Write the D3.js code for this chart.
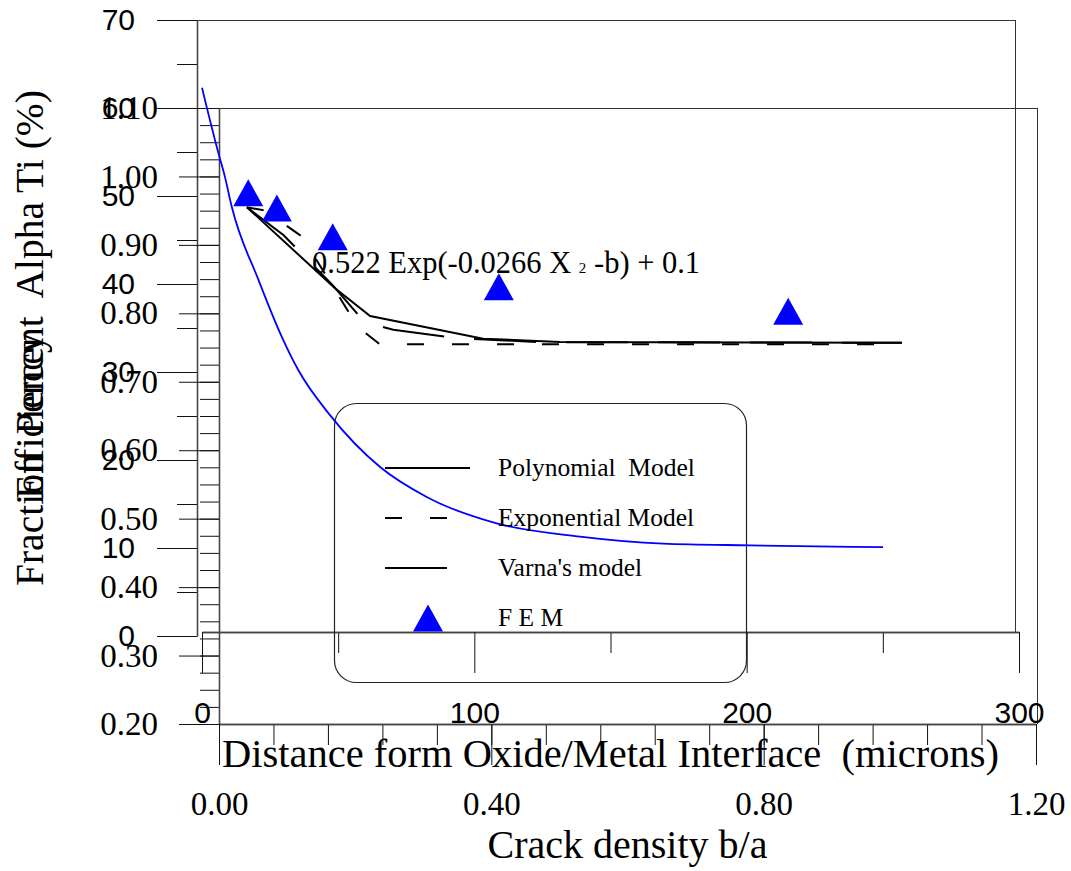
<!DOCTYPE html>
<html>
<head>
<meta charset="utf-8">
<script src="https://cdn.jsdelivr.net/npm/d3@7"></script>
<style>
  html, body { margin: 0; padding: 0; background: #fff; }
  svg { display: block; }
  text { white-space: pre; }
  .serif { font-family: "Liberation Serif", "Times New Roman", serif; }
  .sans { font-family: "Liberation Sans", Arial, sans-serif; }
</style>
</head>
<body>
<svg id="chart" width="1071" height="871"></svg>
<script>
// ---- Alpha Ti fraction vs. distance (blue curve, sans-serif axes) ----
const alphaDistance = [0, 6, 8.4, 10.9, 20.7, 29.3, 35.4, 47, 65.4, 82.5, 108.2, 138.8, 169.3, 201.2, 250.1];
const alphaFraction = [62.3, 54.9, 52.2, 48.8, 40.5, 34.0, 30.2, 25.1, 19.2, 15.8, 12.8, 11.3, 10.5, 10.3, 10.1];
const alphaYTicks = [0, 10, 20, 30, 40, 50, 60, 70];
const alphaXTicks = [0, 100, 200, 300];

// ---- Stiffness vs. crack density (black models + FEM points, serif axes) ----
const polyDensity = [0.041, 0.170, 0.222, 0.388, 0.501, 1.003];
const polyValue   = [0.955, 0.837, 0.796, 0.763, 0.758, 0.757];
const expDensity  = [0.041, 0.068, 0.122, 0.204, 0.236, 1.003];
const expValue    = [0.955, 0.950, 0.912, 0.780, 0.755, 0.755];
const varnaDensity = [0.041, 0.095, 0.167, 0.214, 0.256, 0.347, 0.471, 1.003];
const varnaValue   = [0.955, 0.914, 0.841, 0.787, 0.776, 0.764, 0.758, 0.757];
const femDensity = [0.043, 0.085, 0.167, 0.411, 0.836];
const femValue   = [0.976, 0.954, 0.912, 0.839, 0.803];
const stiffYTicks = [0.20, 0.30, 0.40, 0.50, 0.60, 0.70, 0.80, 0.90, 1.00, 1.10];
const stiffXTicks = [0.00, 0.40, 0.80, 1.20];

const legendLabels = ["Polynomial  Model", "Exponential Model", "Varna's model", "F E M"];

const svg = d3.select("#chart");

// scales
const xA = d3.scaleLinear().domain([0, 300]).range([202, 1019]);
const yA = d3.scaleLinear().domain([0, 70]).range([636, 20]);
const xB = d3.scaleLinear().domain([0, 1.2]).range([219, 1036]);
const yB = d3.scaleLinear().domain([0.2, 1.1]).range([724, 108]);

function styleAxis(g, fontClass, size) {
  g.selectAll("path.domain").attr("stroke", "#444").attr("stroke-width", 1.3);
  g.selectAll(".tick line").attr("stroke", "#111");
  g.selectAll(".tick text").attr("class", fontClass).attr("font-size", size).attr("fill", "#000");
}

// ---------- frames ----------
const frames = svg.append("g").attr("stroke", "#333").attr("fill", "none").attr("stroke-width", 1);
frames.append("line").attr("x1", 197).attr("x2", 1015).attr("y1", yA(70) + 0.5).attr("y2", yA(70) + 0.5);
frames.append("line").attr("x1", 1015.5).attr("x2", 1015.5).attr("y1", yA(70)).attr("y2", 632);
frames.append("line").attr("x1", 197).attr("x2", 1037).attr("y1", yB(1.1) + 0.5).attr("y2", yB(1.1) + 0.5);
frames.append("line").attr("x1", 1037.5).attr("x2", 1037.5).attr("y1", yB(1.1)).attr("y2", yB(0.2));

// ---------- alpha chart axes ----------
const aLeftMinor = svg.append("g").attr("transform", "translate(197,0)")
  .call(d3.axisLeft(yA).tickValues(d3.range(5, 70, 10)).tickSize(20).tickSizeOuter(0).tickFormat(""));
styleAxis(aLeftMinor, "sans", 30);
const aLeft = svg.append("g").attr("transform", "translate(197,0)")
  .call(d3.axisLeft(yA).tickValues(alphaYTicks).tickSize(40).tickSizeOuter(0).tickPadding(22).tickFormat(d3.format("d")));
styleAxis(aLeft, "sans", 30);

const aBottomMinor = svg.append("g").attr("transform", "translate(0,632)")
  .call(d3.axisBottom(xA).tickValues([50, 150, 250]).tickSize(21).tickSizeOuter(0).tickFormat(""));
styleAxis(aBottomMinor, "sans", 30);
const aBottom = svg.append("g").attr("transform", "translate(0,632)")
  .call(d3.axisBottom(xA).tickValues(alphaXTicks).tickSize(41).tickSizeOuter(0).tickPadding(0).tickFormat(d3.format("d")));
styleAxis(aBottom, "sans", 30);
aBottom.selectAll(".tick text").attr("y", 0).attr("dy", 0).attr("transform", "translate(0,91)");

// ---------- stiffness chart axes ----------
const bLeftMinor = svg.append("g").attr("transform", "translate(219,0)")
  .call(d3.axisLeft(yB).tickValues(d3.range(0, 37).map(i => 0.2 + i * 0.025)).tickSize(19).tickSizeOuter(0).tickFormat(""));
styleAxis(bLeftMinor, "serif", 33);
const bLeft = svg.append("g").attr("transform", "translate(219,0)")
  .call(d3.axisLeft(yB).tickValues(stiffYTicks).tickSize(40).tickSizeOuter(0).tickPadding(21).tickFormat(d3.format(".2f")));
styleAxis(bLeft, "serif", 33);

const bBottomMinor = svg.append("g").attr("transform", "translate(0,724)")
  .call(d3.axisBottom(xB).tickValues(d3.range(0, 16).map(i => i * 0.08)).tickSize(21).tickSizeOuter(0).tickFormat(""));
styleAxis(bBottomMinor, "serif", 33);
const bBottom = svg.append("g").attr("transform", "translate(0,724)")
  .call(d3.axisBottom(xB).tickValues(stiffXTicks).tickSize(41).tickSizeOuter(0).tickFormat(d3.format(".2f")));
styleAxis(bBottom, "serif", 33);
bBottom.selectAll(".tick text").attr("y", 0).attr("dy", 0).attr("transform", "translate(0,91)");

// ---------- axis titles ----------
svg.append("text").attr("class", "serif").attr("font-size", 40.5)
  .attr("x", (xA.range()[0] + xA.range()[1]) / 2).attr("y", 767).attr("text-anchor", "middle")
  .text("Distance form Oxide/Metal Interface  (microns)");
svg.append("text").attr("class", "serif").attr("font-size", 40)
  .attr("x", (xB.range()[0] + xB.range()[1]) / 2).attr("y", 858).attr("text-anchor", "middle")
  .text("Crack density b/a");
svg.append("text").attr("class", "serif").attr("font-size", 39.5)
  .attr("transform", "translate(43,586) rotate(-90)")
  .attr("text-anchor", "start")
  .text("Fraction  Percent  Alpha Ti (%)");
svg.append("text").attr("class", "serif").attr("font-size", 40)
  .attr("transform", `translate(43,${(yB.range()[0] + yB.range()[1]) / 2}) rotate(-90)`)
  .attr("text-anchor", "middle")
  .text("Efficiency");

// ---------- legend box ----------
svg.append("rect").attr("x", 334.5).attr("y", 403.5).attr("width", 412).attr("height", 279)
  .attr("rx", 22).attr("ry", 22).attr("fill", "none").attr("stroke", "#222").attr("stroke-width", 1.2);

// ---------- blue alpha fraction curve ----------
const alphaPts = alphaDistance.map((d, i) => [xA(d), yA(alphaFraction[i])]);
svg.append("path").attr("d", d3.line().curve(d3.curveMonotoneX)(alphaPts))
  .attr("fill", "none").attr("stroke", "#0000ff").attr("stroke-width", 1.8);

// ---------- model lines ----------
const lineB = d3.line().x(d => xB(d[0])).y(d => yB(d[1]));
svg.append("path").attr("d", lineB(polyDensity.map((d, i) => [d, polyValue[i]])))
  .attr("fill", "none").attr("stroke", "#000").attr("stroke-width", 2);
svg.append("path").attr("d", lineB(expDensity.map((d, i) => [d, expValue[i]])))
  .attr("fill", "none").attr("stroke", "#000").attr("stroke-width", 2).attr("stroke-dasharray", "17,28");
svg.append("path").attr("d", lineB(varnaDensity.map((d, i) => [d, varnaValue[i]])))
  .attr("fill", "none").attr("stroke", "#000").attr("stroke-width", 2).attr("stroke-dasharray", "62,30");

// ---------- FEM triangles ----------
function tri(cx, cy) {
  const p = d3.path();
  p.moveTo(cx, cy - 13.5); p.lineTo(cx + 15, cy + 13.5); p.lineTo(cx - 15, cy + 13.5); p.closePath();
  return p.toString();
}
svg.append("g").selectAll("path").data(femDensity.map((d, i) => [d, femValue[i]])).join("path")
  .attr("d", d => tri(xB(d[0]), yB(d[1]))).attr("fill", "#0000ff");

// ---------- equation annotation ----------
const eq = svg.append("text").attr("class", "serif").attr("font-size", 30.5).attr("x", 312).attr("y", 273);
eq.append("tspan").text("0.522 Exp(-0.0266 X ");
eq.append("tspan").attr("font-size", 15).text("2");
eq.append("tspan").text(" -b) + 0.1");

// ---------- legend entries ----------
const leg = svg.append("g");
const legY = [468, 518, 568, 618];
leg.append("line").attr("x1", 385).attr("x2", 470).attr("y1", legY[0]).attr("y2", legY[0]).attr("stroke", "#000").attr("stroke-width", 2);
leg.append("line").attr("x1", 385).attr("x2", 447).attr("y1", legY[1]).attr("y2", legY[1]).attr("stroke", "#000").attr("stroke-width", 2).attr("stroke-dasharray", "17,28");
leg.append("line").attr("x1", 385).attr("x2", 447).attr("y1", legY[2]).attr("y2", legY[2]).attr("stroke", "#000").attr("stroke-width", 2);
leg.append("path").attr("d", tri(428, legY[3])).attr("fill", "#0000ff");
leg.selectAll("text").data(legendLabels).join("text")
  .attr("class", "serif").attr("font-size", 25.5)
  .attr("x", 498).attr("y", (d, i) => legY[i] + 8).text(d => d);
</script>
</body>
</html>
